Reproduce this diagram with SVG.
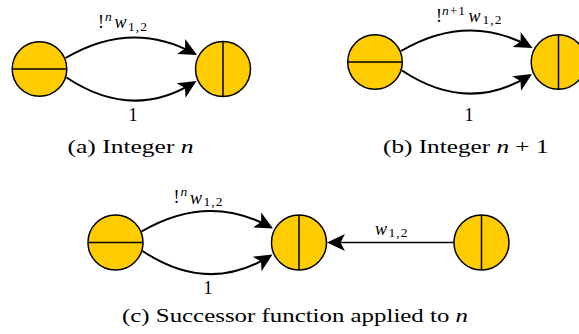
<svg xmlns="http://www.w3.org/2000/svg" width="579" height="334" viewBox="0 0 579 334">
<style>
.nd{fill:#FFCC00;stroke:#000;stroke-width:1.5}
.dv{stroke:#000;stroke-width:1.5}
.arc{fill:none;stroke:#000;stroke-width:2;marker-end:url(#ah)}
.str{fill:none;stroke:#000;stroke-width:1.5;marker-end:url(#ah)}
text{font-family:"Liberation Serif","Times New Roman",serif;fill:#000}
.lbl{font-size:18px}
.it{font-style:italic}
.sc{font-size:13.5px}
.cap{font-size:19px}
</style>
<defs>
<marker id="ah" markerUnits="userSpaceOnUse" orient="auto" overflow="visible" refX="0" refY="0" markerWidth="20" markerHeight="20">
<path d="M4,0 L-14,-8.5 L-9.5,0 L-14,8.5 Z" fill="#000"/>
</marker>
</defs>
<g id="connectors">
<path class="arc" d="M65.5,58 Q131.25,19.5 193.48,53.1"/>
<path class="arc" d="M66.5,77.5 Q131.5,120.75 193.09,83.09"/>
<path class="arc" d="M401,51 Q466.75,12.5 528.98,46.1"/>
<path class="arc" d="M402,70.5 Q467,113.75 528.59,76.09"/>
<path class="arc" d="M141.5,231.5 Q207.25,193 269.48,226.6"/>
<path class="arc" d="M142.5,251 Q207.5,294.25 269.09,256.59"/>
<path class="str" d="M454,242.5 L331,242.5"/>
</g>
<g id="a1"><circle class="nd" cx="39.5" cy="69" r="27.3"/><line class="dv" x1="12.2" y1="69" x2="66.8" y2="69"/></g>
<g id="a2"><circle class="nd" cx="223" cy="69" r="27.5"/><line class="dv" x1="223" y1="41.5" x2="223" y2="96.5"/></g>
<g id="b1"><circle class="nd" cx="375" cy="62" r="27.3"/><line class="dv" x1="347.7" y1="62" x2="402.3" y2="62"/></g>
<g id="b2"><circle class="nd" cx="558.5" cy="62" r="27.3"/><line class="dv" x1="558.5" y1="34.7" x2="558.5" y2="89.3"/></g>
<g id="c1"><circle class="nd" cx="115.5" cy="242.5" r="27.5"/><line class="dv" x1="88" y1="242.5" x2="143" y2="242.5"/></g>
<g id="c2"><circle class="nd" cx="299" cy="242.5" r="27.5"/><line class="dv" x1="299" y1="215" x2="299" y2="270"/></g>
<g id="c3"><circle class="nd" cx="481.5" cy="242.5" r="27.5"/><line class="dv" x1="481.5" y1="215" x2="481.5" y2="270"/></g>
<g id="labels">
<text class="lbl"><tspan x="98" y="28">!</tspan><tspan class="sc it" x="105" y="21">n</tspan><tspan class="it" x="114.5" y="28.3">w</tspan><tspan class="sc" x="128" y="30.5" letter-spacing="1">1,2</tspan></text>
<text class="lbl" x="128.5" y="120.5">1</text>
<text class="lbl"><tspan x="436" y="22">!</tspan><tspan class="sc" x="442" y="15" letter-spacing="1"><tspan class="it">n</tspan>+1</tspan><tspan class="it" x="468.5" y="22">w</tspan><tspan class="sc" x="482.5" y="24.2" letter-spacing="1">1,2</tspan></text>
<text class="lbl" x="464.5" y="120.5">1</text>
<text class="lbl"><tspan x="173.5" y="203.3">!</tspan><tspan class="sc it" x="180.5" y="196.3">n</tspan><tspan class="it" x="190" y="203.6">w</tspan><tspan class="sc" x="203.5" y="205.8" letter-spacing="1">1,2</tspan></text>
<text class="lbl" x="203.5" y="294">1</text>
<text class="lbl"><tspan class="it" x="375" y="235">w</tspan><tspan class="sc" x="388.5" y="237.2" letter-spacing="1">1,2</tspan></text>
<text class="cap" x="67.5" y="153" textLength="126" lengthAdjust="spacingAndGlyphs">(a) Integer <tspan class="it">n</tspan></text>
<text class="cap" x="383" y="153" textLength="165.5" lengthAdjust="spacingAndGlyphs">(b) Integer <tspan class="it">n</tspan> + 1</text>
<text class="cap" x="122" y="322" textLength="346" lengthAdjust="spacingAndGlyphs">(c) Successor function applied to <tspan class="it">n</tspan></text>
</g>
</svg>
